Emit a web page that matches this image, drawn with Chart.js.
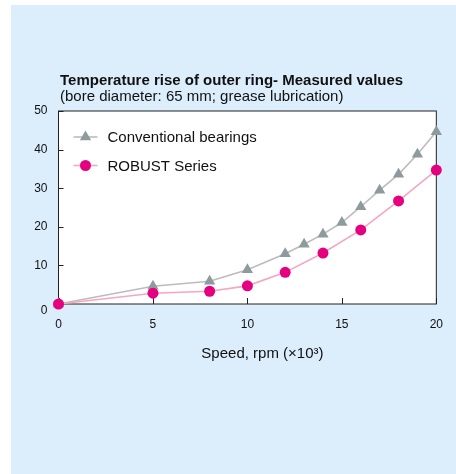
<!DOCTYPE html>
<html>
<head>
<meta charset="utf-8">
<script src="https://cdn.jsdelivr.net/npm/chart.js@4.4.1/dist/chart.umd.min.js"></script>
<style>
  html, body { margin: 0; padding: 0; background: #ffffff; }
  #panel { position: absolute; left: 11px; top: 5px; width: 445px; height: 469px; background: #dcedfb; }
  #wrap { position: absolute; left: 0; top: 0; width: 456px; height: 474px; }
</style>
</head>
<body>
<div id="panel"></div>
<div id="wrap"><canvas id="myChart" width="456" height="474"></canvas></div>
<script>
let speedsConv = [0, 5, 8, 10, 12, 13, 14, 15, 16, 17, 18, 19, 20];
let tempConv = [0, 4.6, 5.9, 8.9, 13.0, 15.5, 18.1, 21.1, 25.2, 29.5, 33.6, 38.8, 44.6];
let speedsRobust = [0, 5, 8, 10, 12, 14, 16, 18, 20];
let tempRobust = [0, 2.8, 3.3, 4.7, 8.2, 13.2, 19.2, 26.7, 34.7];
let seriesNames = ['Conventional bearings', 'ROBUST Series'];
let xTicks = [0, 5, 10, 15, 20];
let yTicks = [0, 10, 20, 30, 40, 50];

let titleText = 'Temperature rise of outer ring- Measured values';
let subtitleText = '(bore diameter: 65 mm; grease lubrication)';
let xTitleText = 'Speed, rpm (\u00d710\u00b3)';

let FONT = '"Liberation Sans", Arial, Helvetica, sans-serif';
let grayLine = '#bcbcbc';
let grayMark = '#8d9b9c';
let pinkLine = '#f6a5c3';
let pinkMark = '#e4007f';

let toPts = (xs, ys) => xs.map((x, i) => ({ x: x, y: ys[i] }));

let drawMarker = function (ctx, style, x, y, r, color) {
    ctx.save();
    ctx.fillStyle = color;
    ctx.beginPath();
    if (style === 'triangle') {
        ctx.moveTo(x, y - r);
        ctx.lineTo(x + r * 0.866, y + r * 0.5);
        ctx.lineTo(x - r * 0.866, y + r * 0.5);
        ctx.closePath();
    } else {
        ctx.arc(x, y, r, 0, Math.PI * 2);
    }
    ctx.fill();
    ctx.restore();
};

let framePlugin = {
    id: 'frame',
    beforeDraw(chart) {
        let a = chart.chartArea;
        let ctx = chart.ctx;
        ctx.save();
        ctx.fillStyle = '#ffffff';
        ctx.fillRect(a.left, a.top, a.right - a.left, a.bottom - a.top);
        ctx.restore();
    },
    beforeDatasetsDraw(chart) {
        let a = chart.chartArea;
        let ctx = chart.ctx;
        let xs = chart.scales.x, ys = chart.scales.y;
        ctx.save();
        ctx.strokeStyle = '#222222';
        ctx.lineWidth = 1;
        ctx.strokeRect(a.left, a.top, a.right - a.left, a.bottom - a.top);
        ctx.beginPath();
        yTicks.forEach(v => {
            let py = Math.round(ys.getPixelForValue(v)) + 0.5;
            ctx.moveTo(a.left, py);
            ctx.lineTo(a.left + 5, py);
        });
        xTicks.forEach(v => {
            let px = Math.round(xs.getPixelForValue(v)) + 0.5;
            ctx.moveTo(px, a.bottom);
            ctx.lineTo(px, a.bottom - 6);
        });
        ctx.stroke();
        ctx.restore();
    },
    afterDraw(chart) {
        let a = chart.chartArea;
        let ctx = chart.ctx;
        let ys = chart.scales.y;
        ctx.save();
        ctx.fillStyle = '#111111';
        ctx.textBaseline = 'alphabetic';
        ctx.textAlign = 'left';
        ctx.font = 'bold 15px ' + FONT;
        ctx.fillText(titleText, a.left + 1.5, 85);
        ctx.font = '15px ' + FONT;
        ctx.fillText(subtitleText, a.left + 1.5, 101);

        // x axis title
        ctx.textAlign = 'center';
        ctx.fillText(xTitleText, (a.left + a.right) / 2 + 15, 358);

        // y "0" label sits a little lower than the axis line
        ctx.font = '12px ' + FONT;
        ctx.textAlign = 'right';
        ctx.textBaseline = 'middle';
        ctx.fillText(String(yTicks[0]), a.left - 11, ys.getPixelForValue(yTicks[0]) + 7);

        // legend inside the plot
        let styles = [
            { line: grayLine, mark: grayMark, shape: 'triangle', r: 6.5 },
            { line: pinkLine, mark: pinkMark, shape: 'circle', r: 5.5 }
        ];
        ctx.font = '15px ' + FONT;
        ctx.textAlign = 'left';
        seriesNames.forEach((name, i) => {
            let cy = a.top + 26 + i * 28.5;
            let x0 = a.left + 15;
            ctx.strokeStyle = styles[i].line;
            ctx.lineWidth = 1.6;
            ctx.beginPath();
            ctx.moveTo(x0, cy);
            ctx.lineTo(x0 + 24, cy);
            ctx.stroke();
            drawMarker(ctx, styles[i].shape, x0 + 12, cy, styles[i].r, styles[i].mark);
            ctx.fillStyle = '#111111';
            ctx.fillText(name, x0 + 34, cy + 1);
        });
        ctx.restore();
    }
};

let ctx = document.getElementById('myChart').getContext('2d');

let myChart = new Chart(ctx, {
    type: 'line',
    data: {
        datasets: [{
            label: seriesNames[0],
            data: toPts(speedsConv, tempConv),
            borderColor: grayLine,
            borderWidth: 1.6,
            pointStyle: 'triangle',
            pointRadius: 6.5,
            pointBackgroundColor: grayMark,
            pointBorderColor: grayMark,
            pointBorderWidth: 0,
            tension: 0,
            clip: false,
            order: 1
        }, {
            label: seriesNames[1],
            data: toPts(speedsRobust, tempRobust),
            borderColor: pinkLine,
            borderWidth: 1.6,
            pointStyle: 'circle',
            pointRadius: 5.5,
            pointBackgroundColor: pinkMark,
            pointBorderColor: pinkMark,
            pointBorderWidth: 0,
            tension: 0,
            clip: false,
            order: 0
        }]
    },
    options: {
        responsive: false,
        animation: false,
        devicePixelRatio: 1,
        layout: { padding: { left: 0, top: 111, right: 19, bottom: 0 } },
        plugins: {
            legend: { display: false },
            tooltip: { enabled: false }
        },
        scales: {
            x: {
                type: 'linear',
                min: 0,
                max: 20,
                afterBuildTicks: s => { s.ticks = xTicks.map(v => ({ value: v })); },
                afterFit: s => { s.height = 170; },
                grid: { display: false, drawTicks: false },
                border: { display: false },
                ticks: {
                    padding: 13,
                    color: '#111111',
                    font: { family: FONT, size: 12 },
                    maxRotation: 0
                }
            },
            y: {
                type: 'linear',
                min: 0,
                max: 50,
                afterBuildTicks: s => { s.ticks = yTicks.map(v => ({ value: v })); },
                afterFit: s => { s.width = 58.5; },
                grid: { display: false, drawTicks: false },
                border: { display: false },
                ticks: {
                    padding: 11,
                    color: '#111111',
                    font: { family: FONT, size: 12 },
                    callback: v => (v === yTicks[0] ? '' : String(v))
                }
            }
        }
    },
    plugins: [framePlugin]
});
</script>
</body>
</html>
